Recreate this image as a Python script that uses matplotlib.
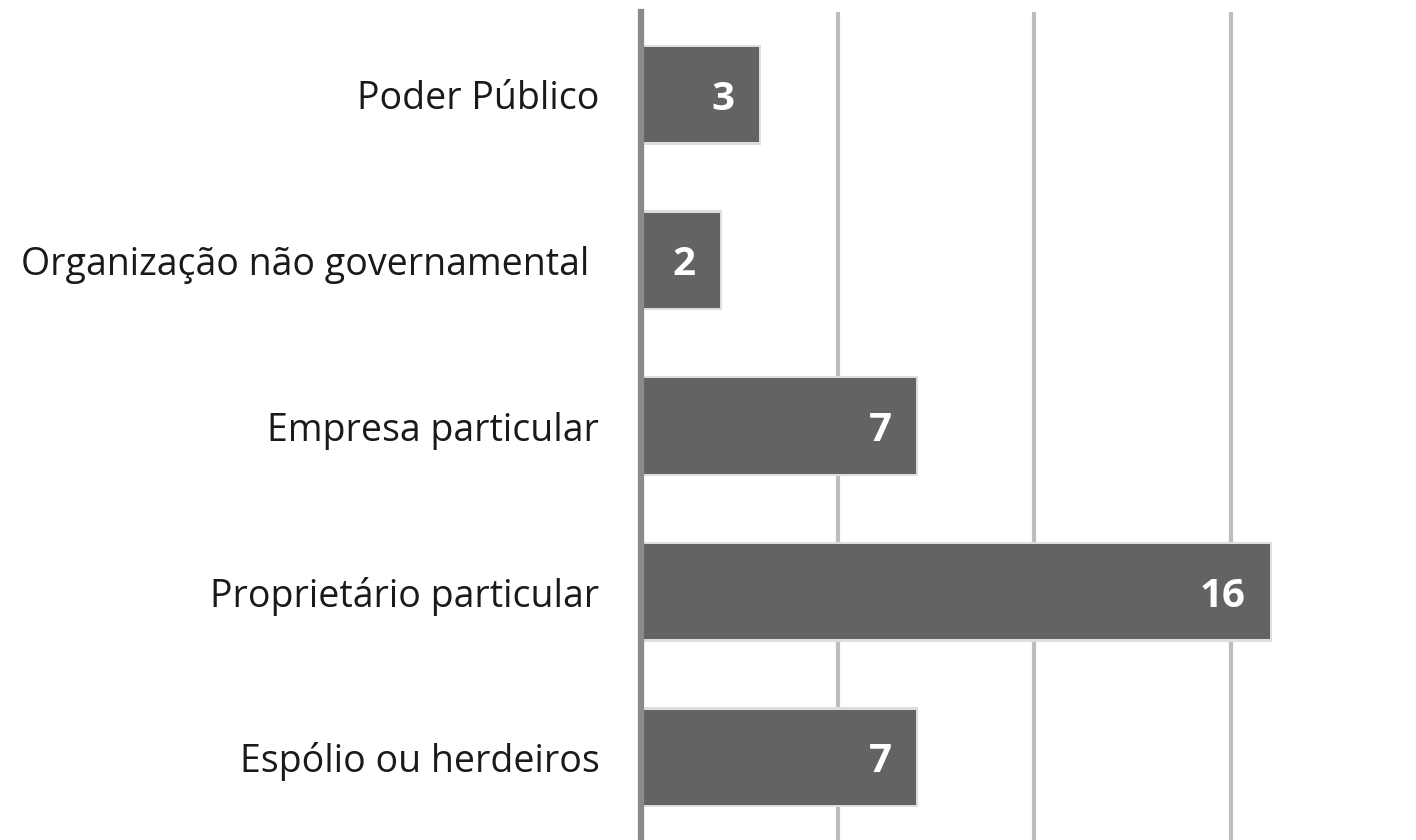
import matplotlib.pyplot as plt

categories = ['Poder Público', 'Organização não governamental ', 'Empresa particular',
              'Proprietário particular', 'Espólio ou herdeiros']
values = [3, 2, 7, 16, 7]

plt.rcParams['font.family'] = ['Open Sans', 'DejaVu Sans']

fig = plt.figure(figsize=(14.16, 8.4), dpi=100)
ax = fig.add_axes([641 / 1416, 0, 1 - 641 / 1416, 1 - 12 / 840])

ypos = list(range(len(categories)))
bar_h = 0.575

# light shadow behind bars
ax.barh(ypos, [v + 0.05 for v in values], height=bar_h + 0.03, color='#dedede', zorder=2)
ax.barh(ypos, values, height=bar_h, color='#636363', zorder=3)

for y, v in zip(ypos, values):
    ax.text(v - 0.62, y, str(v), ha='right', va='center_baseline', color='white',
            fontsize=29, fontweight='bold', zorder=4)

ax.set_xlim(0, 19.72)
ax.set_ylim(4.5, -0.50)
ax.set_xticks([5, 10, 15])
ax.grid(axis='x', color='#bdbdbd', linewidth=3, zorder=1)
ax.tick_params(axis='x', length=0, labelbottom=False)
ax.tick_params(axis='y', length=0, pad=30, labelsize=27, labelcolor='#1a1a1a')
ax.set_yticks(ypos)
ax.set_yticklabels(categories)

for s in ['top', 'right', 'bottom']:
    ax.spines[s].set_visible(False)
ax.spines['left'].set_color('#8a8a8a')
ax.spines['left'].set_linewidth(4.5)
ax.spines['left'].set_zorder(5)

fig.savefig('out.png', dpi=100)
